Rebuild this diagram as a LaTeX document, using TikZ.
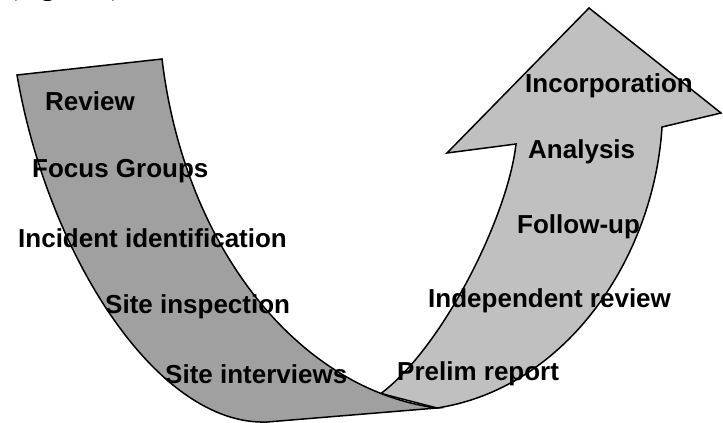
\documentclass[tikz,border=0pt]{standalone}
\usepackage{fontspec}
\setmainfont{Liberation Sans}
\newfontfamily\figserif{Liberation Serif}
\usepackage{tikz}
\definecolor{backgray}{RGB}{160,160,160}
\definecolor{frontgray}{RGB}{192,192,192}
\tikzset{
    stage/.style={anchor=base west,inner sep=0pt,font=\fontsize{26}{30}\selectfont\bfseries},
    band/.style={draw=black,line width=1.5pt,line join=miter}
}

\begin{document}
\begin{tikzpicture}[x=1pt,y=-1pt]
    \useasboundingbox (0,0) rectangle (723,423);
    \clip (0,0) rectangle (723,423);
    \node[font=\figserif\fontsize{28}{32}\selectfont,anchor=base west,inner sep=0pt] (figref) at (8,-4.5) {(Figure 1)};
    \path (162,59) .. controls (185,250) and (300,390) .. coordinate[pos=0.86] (joint) (437,408) coordinate (tip);
    \filldraw[band,fill=frontgray] (joint) .. controls (443,347) and (508,216) .. (516,144) -- (447,153) -- (589,8) -- (721,113) -- (662,127) .. controls (654,257) and (567,388) .. (tip) -- cycle;
    \filldraw[band,fill=backgray] (17,75) -- (162,59) .. controls (185,250) and (300,390) .. (tip) -- (267,422) .. controls (157,426) and (48,255) .. (17,75) -- cycle;
    \node[stage] (review) at (45,110) {Review};
    \node[stage] (focus) at (32,177) {Focus Groups};
    \node[stage] (incident) at (18,247) {Incident identification};
    \node[stage] (inspection) at (105,313) {Site inspection};
    \node[stage] (interviews) at (165,383) {Site interviews};
    \node[stage] (prelim) at (397,380) {Prelim report};
    \node[stage] (independent) at (428,307) {Independent review};
    \node[stage] (followup) at (517,233) {Follow-up};
    \node[stage] (analysis) at (528,158) {Analysis};
    \node[stage] (incorporation) at (525,92) {Incorporation};
\end{tikzpicture}
\end{document}
